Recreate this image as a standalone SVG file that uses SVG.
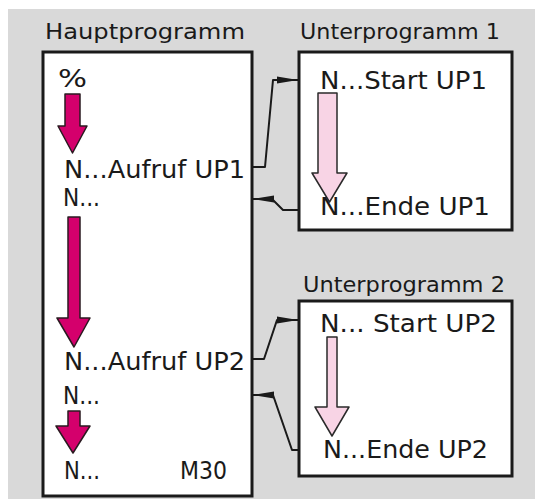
<svg xmlns="http://www.w3.org/2000/svg" width="535" height="499" viewBox="0 0 535 499">
<style>
.t{font-family:"DejaVu Sans","Liberation Sans",sans-serif;fill:#1a1a1a}
.h{font-size:22px}
.b{font-size:24px}
.box{fill:#fff;stroke:#1a1a1a;stroke-width:3}
.ma{fill:#d4006c;stroke:#2a1a20;stroke-width:1.5;stroke-linejoin:round}
.pa{fill:#f8d4e5;stroke:#2a2a2a;stroke-width:1.5;stroke-linejoin:round}
.c{fill:none;stroke:#1a1a1a;stroke-width:2;stroke-linejoin:round}
</style>
<defs>
<marker id="ah" markerUnits="userSpaceOnUse" markerWidth="22" markerHeight="10" refX="21" refY="5" orient="auto">
<path d="M0,1.5 L21,5 L0,8.5 Z" fill="#1a1a1a"/>
</marker>
</defs>
<rect x="0" y="0" width="535" height="499" fill="#fff"/>
<rect x="8" y="9" width="527" height="490" fill="#d9d9d9"/>
<g id="haupt">
<text class="t h" x="45" y="39" textLength="200" lengthAdjust="spacingAndGlyphs">Hauptprogramm</text>
<rect class="box" x="43" y="52" width="209" height="444"/>
<text class="t b" x="58" y="87" textLength="29" lengthAdjust="spacingAndGlyphs">%</text>
<path class="ma" d="M65,94 H80 V126 H87 L72.5,153 L58,126 H65 Z"/>
<text class="t b" x="64" y="178" textLength="181" lengthAdjust="spacingAndGlyphs">N...Aufruf UP1</text>
<text class="t b" x="63" y="206" textLength="37" lengthAdjust="spacingAndGlyphs">N...</text>
<path class="ma" d="M68,217 H80 V318 H90 L74,347 L57,318 H68 Z"/>
<text class="t b" x="64" y="370" textLength="181" lengthAdjust="spacingAndGlyphs">N...Aufruf UP2</text>
<text class="t b" x="63" y="404" textLength="37" lengthAdjust="spacingAndGlyphs">N...</text>
<path class="ma" d="M68,411 H80 V426 H90 L73,453 L56,426 H68 Z"/>
<text class="t b" x="64" y="479" textLength="36" lengthAdjust="spacingAndGlyphs">N...</text>
<text class="t b" x="180" y="479" textLength="47" lengthAdjust="spacingAndGlyphs">M30</text>
</g>
<g id="up1">
<text class="t h" x="300" y="39" textLength="200" lengthAdjust="spacingAndGlyphs">Unterprogramm 1</text>
<rect class="box" x="299" y="52" width="213" height="178"/>
<text class="t b" x="320" y="89" textLength="167" lengthAdjust="spacingAndGlyphs">N...Start UP1</text>
<path class="pa" d="M318,93 H337 V173 H347 L329.5,202 L312,173 H318 Z"/>
<text class="t b" x="320" y="215" textLength="170" lengthAdjust="spacingAndGlyphs">N...Ende UP1</text>
</g>
<g id="up2">
<text class="t h" x="303" y="292" textLength="202" lengthAdjust="spacingAndGlyphs">Unterprogramm 2</text>
<rect class="box" x="299" y="301" width="213" height="175"/>
<text class="t b" x="320" y="332" textLength="177" lengthAdjust="spacingAndGlyphs">N... Start UP2</text>
<path class="pa" d="M327,337 H337 V407 H349 L332,436 L315,407 H327 Z"/>
<text class="t b" x="323" y="458" textLength="165" lengthAdjust="spacingAndGlyphs">N...Ende UP2</text>
</g>
<g id="connectors">
<path class="c" d="M252,167 H265 L273,80 H298" marker-end="url(#ah)"/>
<path class="c" d="M299,210 H283 L272,199 H253" marker-end="url(#ah)"/>
<path class="c" d="M252,359 H264 L277,320 H298" marker-end="url(#ah)"/>
<path class="c" d="M299,450 H292 L273,395 H253" marker-end="url(#ah)"/>
</g>
</svg>
